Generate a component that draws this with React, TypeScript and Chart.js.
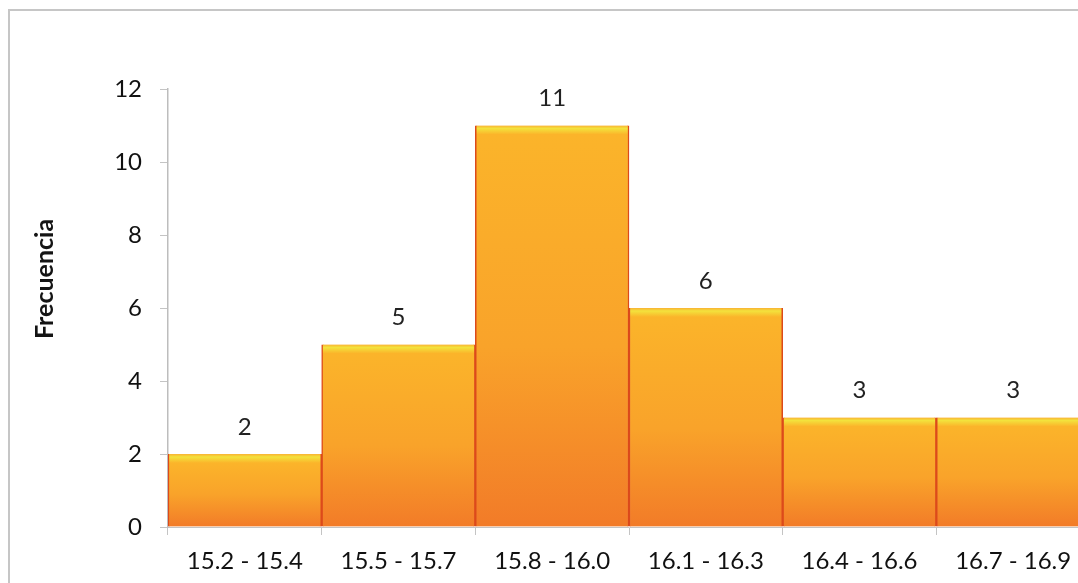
import React, { useEffect, useRef } from "react";
import { Chart, registerables } from "chart.js";

Chart.register(...registerables);

const categories = ["15.2 - 15.4", "15.5 - 15.7", "15.8 - 16.0", "16.1 - 16.3", "16.4 - 16.6", "16.7 - 16.9"];
const frequencies = [2, 5, 11, 6, 3, 3];
const yTicks = [0, 2, 4, 6, 8, 10, 12];
const yTitle = "Frecuencia";

const FONT = "Lato, 'Open Sans', sans-serif";

export default function App() {
  const ref = useRef<HTMLCanvasElement | null>(null);

  useEffect(() => {
    if (!ref.current) return;

    const valueLabels = {
      id: "valueLabels",
      afterDatasetsDraw(chart: any) {
        const ctx = chart.ctx;
        const meta = chart.getDatasetMeta(0);
        ctx.save();
        ctx.font = `24px ${FONT}`;
        ctx.fillStyle = "#222";
        ctx.textAlign = "center";
        ctx.textBaseline = "middle";
        meta.data.forEach((el: any, i: number) => {
          ctx.fillText(String(frequencies[i]), el.x, el.y - 27);
        });
        ctx.restore();
      },
    };

    const yTitlePlugin = {
      id: "yTitlePlugin",
      afterDraw(chart: any) {
        const ctx = chart.ctx;
        ctx.save();
        ctx.translate(37, 271);
        ctx.rotate(-Math.PI / 2);
        ctx.font = `bold 25px ${FONT}`;
        ctx.fillStyle = "#141414";
        ctx.textAlign = "center";
        ctx.textBaseline = "middle";
        ctx.fillText(yTitle, 0, 0);
        ctx.restore();
      },
    };

    const chart = new Chart(ref.current, {
      type: "bar",
      data: {
        labels: categories,
        datasets: [
          {
            data: frequencies,
            categoryPercentage: 1,
            barPercentage: 1,
            borderWidth: { left: 1.5, right: 1.5, top: 0, bottom: 0 },
            borderColor: "#DC4A1B",
            borderSkipped: false,
            backgroundColor: (c: any) => {
              const ch = c.chart;
              const ys = ch.scales?.y;
              if (!ys || c.raw == null) return "#F9A22A";
              const top = ys.getPixelForValue(c.raw);
              const bottom = ys.getPixelForValue(0);
              if (!isFinite(top) || !isFinite(bottom)) return "#F9A22A";
              const h = Math.max(1, bottom - top);
              const g = ch.ctx.createLinearGradient(0, top, 0, bottom);
              const s1 = Math.min(0.5, 3 / h);
              const s2 = Math.min(0.6, 9 / h);
              g.addColorStop(0, "#F9B233");
              g.addColorStop(s1, "#F3E23C");
              g.addColorStop(s2, "#FBB42A");
              g.addColorStop(0.55, "#F9A32A");
              g.addColorStop(1, "#F27B28");
              return g;
            },
          },
        ],
      },
      options: {
        animation: false,
        responsive: false,
        maintainAspectRatio: false,
        layout: { padding: { top: 81, right: 0, bottom: 0, left: 0 } },
        plugins: {
          legend: { display: false },
          tooltip: { enabled: false },
          title: { display: false },
        },
        scales: {
          x: {
            afterFit: (s: any) => {
              s.height = 56;
            },
            grid: {
              drawOnChartArea: false,
              drawTicks: true,
              tickLength: 8,
              color: "#c4c4c4",
              offset: true,
            },
            border: { display: true, color: "#c4c4c4", width: 1 },
            ticks: {
              color: "#111",
              font: { family: FONT, size: 24 },
              padding: 12,
              maxRotation: 0,
              autoSkip: false,
            },
          },
          y: {
            min: 0,
            max: 12,
            afterFit: (s: any) => {
              s.width = 160;
            },
            afterBuildTicks: (s: any) => {
              s.ticks = yTicks.map((v) => ({ value: v }));
            },
            grid: {
              drawOnChartArea: false,
              drawTicks: true,
              tickLength: 8,
              color: "#c4c4c4",
            },
            border: { display: true, color: "#bdbdbd", width: 1.5 },
            ticks: {
              color: "#111",
              font: { family: FONT, size: 24 },
              padding: 18,
            },
          },
        },
      },
      plugins: [valueLabels, yTitlePlugin],
    });
    chart.update();

    return () => chart.destroy();
  }, []);

  return (
    <div style={{ position: "fixed", left: 8, top: 8, width: 1070, height: 575, overflow: "hidden", background: "#fff" }}>
      <canvas ref={ref} width={1082} height={575} style={{ position: "absolute", left: 0, top: 0, width: 1082, height: 575 }} />
      <div
        style={{
          position: "absolute",
          left: 0,
          top: 1,
          width: 1200,
          height: 700,
          borderTop: "2px solid #c6c6c6",
          borderLeft: "2px solid #c6c6c6",
          pointerEvents: "none",
        }}
      />
    </div>
  );
}
